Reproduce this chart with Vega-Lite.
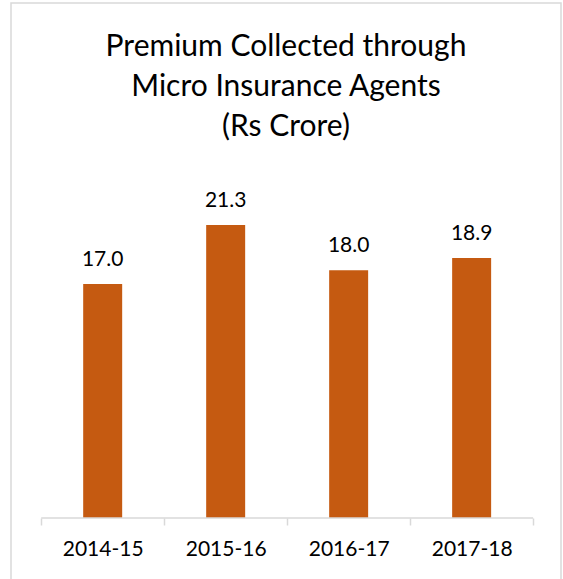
{
  "$schema": "https://vega.github.io/schema/vega-lite/v6.json",
  "width": 550,
  "height": 578,
  "autosize": {"type": "none"},
  "padding": {"left": 11, "top": 3, "right": 2, "bottom": 0},
  "background": "white",
  "config": {"view": {"stroke": "#d9d9d9", "strokeWidth": 1.5}, "font": "Lato"},
  "title": {
    "text": ["Premium Collected through", "Micro Insurance Agents", "(Rs Crore)"],
    "font": "Lato",
    "fontSize": 30,
    "fontWeight": "normal",
    "color": "#000000",
    "lineHeight": 40,
    "offset": -139,
    "baseline": "top",
    "anchor": "middle"
  },
  "data": {
    "values": [
      {"year": "2014-15", "value": 17.0},
      {"year": "2015-16", "value": 21.3},
      {"year": "2016-17", "value": 18.0},
      {"year": "2017-18", "value": 18.9}
    ]
  },
  "layer": [
    {
      "mark": {"type": "bar", "color": "#C55A11", "width": {"band": 0.317}},
      "encoding": {
        "x": {
          "field": "year",
          "type": "nominal",
          "sort": null,
          "scale": {"paddingInner": 0, "paddingOuter": 0.236, "align": 0.52},
          "axis": {
            "title": null,
            "orient": "bottom",
            "offset": -63,
            "domain": false,
            "tickBand": "extent",
            "tickColor": "#d9d9d9",
            "tickWidth": 1.5,
            "tickSize": 7,
            "labelFont": "Lato",
            "labelFontSize": 21,
            "labelColor": "#000000",
            "labelPadding": 13,
            "labelAngle": 0
          }
        },
        "y": {
          "field": "value",
          "type": "quantitative",
          "scale": {"domain": [-4.58, 37.43], "nice": false, "zero": false},
          "axis": null
        },
        "y2": {"datum": 0}
      }
    },
    {
      "mark": {"type": "text", "baseline": "alphabetic", "dy": -18, "fontSize": 21, "font": "Lato", "color": "#000000"},
      "encoding": {
        "x": {"field": "year", "type": "nominal", "sort": null},
        "y": {"field": "value", "type": "quantitative"},
        "text": {"field": "value", "type": "quantitative", "format": ".1f"}
      }
    },
    {
      "data": {"values": [{"a": 1}]},
      "mark": {"type": "rule", "color": "#d9d9d9", "strokeWidth": 1.5},
      "encoding": {
        "x": {"datum": "2014-15", "bandPosition": 0},
        "x2": {"datum": "2017-18", "bandPosition": 1},
        "y": {"datum": 0}
      }
    }
  ]
}
